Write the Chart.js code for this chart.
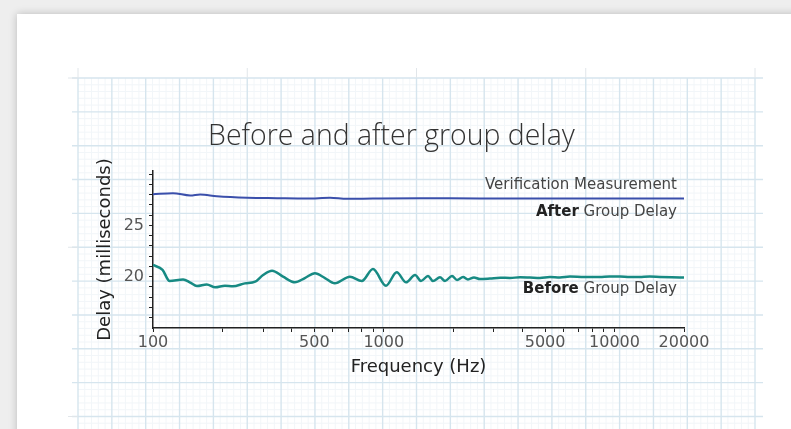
<!DOCTYPE html>
<html>
<head>
<meta charset="utf-8">
<script src="https://cdn.jsdelivr.net/npm/chart.js@4.4.1/dist/chart.umd.min.js"></script>
<style>
  html, body { margin: 0; padding: 0; background: #fff; }
  canvas { display: block; }
</style>
</head>
<body>
<canvas id="delay-chart" width="791" height="429"></canvas>
<script>
// values
const beforeFreq = [100, 110, 118, 135, 145, 155, 171, 186, 205, 222, 250, 277, 300, 328, 366, 412, 455, 503, 556, 613, 713, 803, 898, 1022, 1138, 1250, 1367, 1450, 1555, 1634, 1752, 1842, 1976, 2078, 2206, 2317, 2460, 2610, 2883, 3200, 3521, 3900, 4298, 4750, 5250, 5800, 6410, 7400, 8660, 9500, 10560, 11700, 12890, 14200, 15740, 17700, 20000];
const beforeDelay = [21.15, 20.66, 19.58, 19.73, 19.43, 19.09, 19.25, 18.96, 19.12, 19.06, 19.35, 19.51, 20.17, 20.59, 20.0, 19.45, 19.87, 20.33, 19.87, 19.35, 20.0, 19.58, 20.75, 19.12, 20.43, 19.45, 20.17, 19.58, 20.07, 19.58, 19.94, 19.58, 20.07, 19.68, 19.97, 19.73, 19.92, 19.77, 19.82, 19.9, 19.87, 19.95, 19.92, 19.88, 19.97, 19.93, 20.02, 19.96, 19.97, 20.03, 20.02, 19.96, 19.97, 20.01, 19.97, 19.94, 19.92];
const afterFreq = [100, 122, 145, 160, 189, 256, 345, 465, 585, 692, 898, 1434, 2610, 5250, 10560, 20000];
const afterDelay = [28.04, 28.14, 27.91, 28.01, 27.84, 27.69, 27.65, 27.62, 27.69, 27.59, 27.62, 27.65, 27.62, 27.63, 27.62, 27.62];

const xTicks = [100, 200, 300, 400, 500, 600, 700, 800, 900, 1000, 2000, 3000, 4000, 5000, 6000, 7000, 8000, 9000, 10000, 20000];
const xTickLabels = [100, 500, 1000, 5000, 10000, 20000];
const yTicks = [16, 17, 18, 19, 20, 21, 22, 23, 24, 25, 26, 27, 28, 29, 30];
const yTickLabels = [20, 25];

const noteBold = ["", "After", "Before"];
const noteText = ["Verification Measurement", " Group Delay", " Group Delay"];
const noteY = [28.89, 26.27, 18.76];

const titleText = "Before and after group delay";

function fitFont(text, weight, family, width) {
  const c = document.createElement("canvas").getContext("2d");
  c.font = weight + ' 100px "' + family + '"';
  return 100 * width / c.measureText(text).width;
}
const titleSize = fitFont(titleText, 300, "Open Sans", 367);
const titleLH = titleSize * 1.2;

// card + graph paper behind the chart
const paperPlugin = {
  id: "paper",
  beforeDraw(chart) {
    const ctx = chart.ctx;
    const W = chart.width, H = chart.height;
    ctx.save();
    ctx.fillStyle = "#eeeeee";
    ctx.fillRect(0, 0, W, H);
    ctx.shadowColor = "rgba(0,0,0,0.22)";
    ctx.shadowBlur = 8;
    ctx.fillStyle = "#ffffff";
    ctx.fillRect(17, 14, W + 40, H + 40);
    ctx.shadowBlur = 0;
    ctx.shadowColor = "transparent";

    const gx = 78, gy = 78, cell = 33.85, n = 20;
    const gr = gx + n * cell;
    // minor lines
    ctx.strokeStyle = "#f2f6f9";
    ctx.lineWidth = 1;
    for (let i = 0; i <= n * 5; i++) {
      if (i % 5 === 0) continue;
      const x = gx + i * cell / 5;
      ctx.beginPath(); ctx.moveTo(x, gy); ctx.lineTo(x, H); ctx.stroke();
    }
    for (let j = 0; gy + j * cell / 5 <= H; j++) {
      if (j % 5 === 0) continue;
      const y = gy + j * cell / 5;
      ctx.beginPath(); ctx.moveTo(gx, y); ctx.lineTo(gr, y); ctx.stroke();
    }
    // major lines
    ctx.strokeStyle = "#d6e5ee";
    ctx.lineWidth = 1.4;
    for (let i = 0; i <= n; i++) {
      const x = gx + i * cell;
      ctx.beginPath(); ctx.moveTo(x, gy); ctx.lineTo(x, H); ctx.stroke();
    }
    for (let j = 0; gy + j * cell <= H; j++) {
      const y = gy + j * cell;
      ctx.beginPath(); ctx.moveTo(gx - 6, y); ctx.lineTo(gr + 8, y); ctx.stroke();
    }
    // corner marks
    ctx.strokeStyle = "#e1e6ea";
    ctx.lineWidth = 1;
    for (let i = 0; i <= n; i += 5) {
      const x = gx + i * cell;
      ctx.beginPath(); ctx.moveTo(x, gy - 10); ctx.lineTo(x, gy); ctx.stroke();
    }
    for (let j = 0; gy + j * cell <= H; j += 5) {
      const y = gy + j * cell;
      ctx.beginPath(); ctx.moveTo(gx - 10, y); ctx.lineTo(gx, y); ctx.stroke();
    }
    ctx.restore();
  }
};

// right-aligned labels beside the lines
const notesPlugin = {
  id: "notes",
  afterDatasetsDraw(chart) {
    const { ctx, chartArea, scales } = chart;
    const right = chartArea.right - 7;
    ctx.save();
    ctx.textBaseline = "middle";
    ctx.textAlign = "right";
    noteY.forEach((v, i) => {
      const py = scales.y.getPixelForValue(v);
      ctx.font = '15px "DejaVu Sans"';
      ctx.fillStyle = "#444";
      ctx.fillText(noteText[i], right, py);
      if (noteBold[i]) {
        const w = ctx.measureText(noteText[i]).width;
        ctx.font = 'bold 15px "DejaVu Sans"';
        ctx.fillStyle = "#222";
        ctx.fillText(noteBold[i], right - w, py);
      }
    });
    ctx.restore();
  }
};

const tickFont = { family: "DejaVu Sans", size: 16 };
const axisTitleFont = { family: "DejaVu Sans", size: 18, lineHeight: 1.2 };

const data = {
  datasets: [
    {
      label: "After Group Delay",
      data: afterFreq.map((f, i) => ({ x: f, y: afterDelay[i] })),
      borderColor: "#3a4fab",
      borderWidth: 2,
      pointRadius: 0,
      cubicInterpolationMode: "monotone",
    },
    {
      label: "Before Group Delay",
      data: beforeFreq.map((f, i) => ({ x: f, y: beforeDelay[i] })),
      borderColor: "#178a83",
      borderWidth: 2.5,
      pointRadius: 0,
      cubicInterpolationMode: "monotone",
    },
  ],
};

const options = {
  responsive: false,
  animation: false,
  layout: { padding: { left: 99, right: 107, top: 137 - titleLH / 2, bottom: 47.2 } },
  plugins: {
    legend: { display: false },
    tooltip: { enabled: false },
    title: {
      display: true,
      text: titleText,
      color: "#333",
      font: { family: "Open Sans", size: titleSize, weight: 300, lineHeight: 1.2 },
      padding: { top: 0, bottom: 171 - 137 - titleLH / 2 },
    },
  },
  scales: {
    x: {
      type: "logarithmic",
      min: 100,
      max: 20000,
      afterBuildTicks: (s) => { s.ticks = xTicks.map((v) => ({ value: v })); },
      afterFit: (s) => { s.height = 53.8; },
      ticks: {
        autoSkip: false,
        maxRotation: 0,
        padding: 1,
        color: "#555",
        font: tickFont,
        callback: (v) => (xTickLabels.includes(v) ? String(v) : ""),
      },
      grid: { drawOnChartArea: false, tickLength: 4, color: "#222", lineWidth: 1 },
      border: { color: "#222", width: 1.5 },
      title: { display: true, text: "Frequency (Hz)", color: "#222", font: axisTitleFont, padding: { top: 4, bottom: 4 } },
    },
    y: {
      min: 15,
      max: 30.3,
      afterBuildTicks: (s) => { s.ticks = yTicks.map((v) => ({ value: v })); },
      afterFit: (s) => { s.width = 54; },
      ticks: {
        autoSkip: false,
        padding: 5,
        color: "#555",
        font: tickFont,
        callback: (v) => (yTickLabels.includes(v) ? String(v) : ""),
      },
      grid: { drawOnChartArea: false, tickLength: 4, color: "#222", lineWidth: 1 },
      border: { color: "#222", width: 1.5 },
      title: { display: true, text: "Delay (milliseconds)", color: "#222", font: axisTitleFont, padding: { top: -4.3, bottom: 4 } },
    },
  },
};

new Chart(document.getElementById("delay-chart"), {
  type: "line",
  data: data,
  options: options,
  plugins: [paperPlugin, notesPlugin],
});
</script>
</body>
</html>
